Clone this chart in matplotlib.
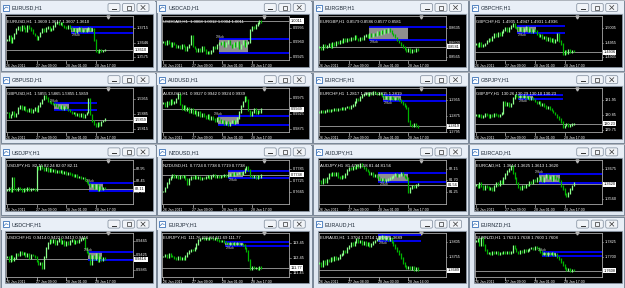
import matplotlib.pyplot as plt
import matplotlib.patches as patches
import matplotlib.transforms as mtransforms
import numpy as np

plt.rcParams['font.family'] = ['Liberation Sans Narrow', 'Liberation Sans', 'DejaVu Sans']

# hourly closes (54 bars each)
eurusd = [1.3658, 1.3676, 1.3649, 1.3668, 1.3690, 1.3712, 1.3720, 1.3708,
          1.3725, 1.3715, 1.3700, 1.3728, 1.3718, 1.3705, 1.3690, 1.3680,
          1.3665, 1.3675, 1.3695, 1.3710, 1.3702, 1.3715, 1.3720, 1.3708,
          1.3712, 1.3725, 1.3740, 1.3748, 1.3735, 1.3742, 1.3728, 1.3722,
          1.3715, 1.3725, 1.3718, 1.3705, 1.3712, 1.3698, 1.3710, 1.3715,
          1.3702, 1.3708, 1.3700, 1.3712, 1.3718, 1.3705, 1.3710, 1.3660,
          1.3605, 1.3598, 1.3612, 1.3603, 1.3608, 1.3610]
usdcad = [0.9962, 0.9955, 0.9965, 0.9958, 0.9950, 0.9960, 0.9955, 0.9948,
          0.9952, 0.9945, 0.9955, 0.9950, 0.9942, 0.9948, 0.9955, 0.9975,
          0.9950, 0.9945, 0.9940, 0.9945, 0.9938, 0.9948, 0.9942, 0.9935,
          0.9938, 0.9933, 0.9940, 0.9950, 0.9945, 0.9955, 0.9960, 0.9955,
          0.9962, 0.9950, 0.9958, 0.9965, 0.9955, 0.9948, 0.9960, 0.9952,
          0.9962, 0.9945, 0.9955, 0.9965, 0.9950, 0.9958, 0.9962, 0.9990,
          0.9998, 0.9995, 1.0003, 1.0008, 1.0013, 1.0011]
eurgbp = [0.8590, 0.8585, 0.8595, 0.8588, 0.8592, 0.8598, 0.8590, 0.8600,
          0.8595, 0.8602, 0.8598, 0.8605, 0.8600, 0.8608, 0.8603, 0.8610,
          0.8606, 0.8612, 0.8608, 0.8615, 0.8610, 0.8605, 0.8612, 0.8608,
          0.8615, 0.8618, 0.8612, 0.8620, 0.8615, 0.8622, 0.8618, 0.8625,
          0.8620, 0.8628, 0.8622, 0.8630, 0.8625, 0.8632, 0.8628, 0.8622,
          0.8618, 0.8612, 0.8605, 0.8600, 0.8595, 0.8590, 0.8585, 0.8580,
          0.8585, 0.8578, 0.8583, 0.8580, 0.8584, 0.8581]
gbpchf = [1.4950, 1.4945, 1.4955, 1.4942, 1.4948, 1.4952, 1.4960, 1.4970,
          1.4965, 1.4975, 1.4985, 1.4978, 1.4988, 1.4980, 1.4992, 1.5000,
          1.5008, 1.4995, 1.5005, 1.5012, 1.5020, 1.5010, 1.5005, 1.4998,
          1.5008, 1.4995, 1.5002, 1.5010, 1.4996, 1.5004, 1.4992, 1.5000,
          1.4995, 1.4985, 1.4978, 1.4982, 1.4970, 1.4975, 1.4965, 1.4972,
          1.4960, 1.4968, 1.4958, 1.4965, 1.4985, 1.4960, 1.4950, 1.4915,
          1.4925, 1.4918, 1.4930, 1.4922, 1.4928, 1.4926]
gbpusd = [1.5890, 1.5870, 1.5880, 1.5895, 1.5875, 1.5885, 1.5910, 1.5920,
          1.5905, 1.5915, 1.5900, 1.5895, 1.5905, 1.5890, 1.5900, 1.5910,
          1.5895, 1.5920, 1.5935, 1.5950, 1.5965, 1.5958, 1.5945, 1.5940,
          1.5935, 1.5930, 1.5925, 1.5918, 1.5910, 1.5920, 1.5905, 1.5915,
          1.5908, 1.5902, 1.5895, 1.5885, 1.5890, 1.5878, 1.5885, 1.5875,
          1.5882, 1.5870, 1.5880, 1.5890, 1.5955, 1.5880, 1.5850, 1.5835,
          1.5825, 1.5840, 1.5830, 1.5848, 1.5852, 1.5859]
audusd = [0.9960, 0.9950, 0.9965, 0.9955, 0.9970, 0.9958, 0.9962, 0.9975,
          0.9990, 0.9955, 0.9940, 0.9950, 0.9935, 0.9945, 0.9930, 0.9940,
          0.9925, 0.9935, 0.9920, 0.9930, 0.9915, 0.9925, 0.9918, 0.9910,
          0.9922, 0.9905, 0.9915, 0.9908, 0.9900, 0.9912, 0.9905, 0.9895,
          0.9900, 0.9890, 0.9898, 0.9888, 0.9895, 0.9902, 0.9892, 0.9900,
          0.9910, 0.9930, 0.9950, 0.9965, 0.9980, 0.9970, 0.9935, 0.9920,
          0.9930, 0.9940, 0.9925, 0.9935, 0.9930, 0.9939]
eurchf = [1.2895, 1.2900, 1.2892, 1.2898, 1.2905, 1.2900, 1.2908, 1.2903,
          1.2910, 1.2906, 1.2912, 1.2908, 1.2915, 1.2910, 1.2918, 1.2922,
          1.2915, 1.2925, 1.2930, 1.2945, 1.2960, 1.2955, 1.2970, 1.2980,
          1.2985, 1.2990, 1.2982, 1.2992, 1.2988, 1.2995, 1.2990, 1.2985,
          1.2992, 1.2988, 1.2975, 1.2968, 1.2972, 1.2962, 1.2970, 1.2965,
          1.2958, 1.2966, 1.2960, 1.2955, 1.2945, 1.2935, 1.2925, 1.2915,
          1.2850, 1.2830, 1.2825, 1.2832, 1.2822, 1.2819]
gbpjpy = [130.85, 130.75, 130.90, 130.70, 130.80, 130.95, 130.85, 130.70,
          130.90, 130.80, 130.95, 130.85, 130.75, 130.90, 131.00, 131.85,
          131.60, 131.75, 131.50, 131.70, 132.10, 132.35, 132.25, 132.20,
          132.30, 132.15, 132.25, 132.10, 132.20, 132.05, 132.15, 132.00,
          131.85, 131.75, 131.80, 131.60, 131.65, 131.50, 131.40, 131.45,
          131.30, 131.20, 131.05, 130.90, 130.70, 130.55, 130.35, 129.95,
          130.10, 130.20, 130.05, 130.15, 130.20, 130.23]
usdjpy = [82.05, 82.12, 82.02, 82.55, 82.10, 82.05, 82.12, 82.08,
          82.02, 82.10, 82.06, 82.12, 82.04, 82.08, 82.10, 82.06,
          83.05, 82.95, 83.10, 83.00, 82.90, 82.98, 82.88, 82.95,
          82.85, 82.90, 82.82, 82.88, 82.80, 82.85, 82.78, 82.82,
          82.75, 82.80, 82.72, 82.70, 82.65, 82.68, 82.60, 82.62,
          82.55, 82.58, 82.48, 82.40, 82.30, 82.20, 82.28, 82.15,
          82.25, 82.05, 82.18, 82.08, 82.15, 82.11]
nzdusd = [0.7670, 0.7690, 0.7715, 0.7735, 0.7745, 0.7755, 0.7745, 0.7752,
          0.7740, 0.7750, 0.7742, 0.7748, 0.7735, 0.7710, 0.7735, 0.7745,
          0.7738, 0.7748, 0.7740, 0.7745, 0.7735, 0.7742, 0.7738, 0.7745,
          0.7752, 0.7740, 0.7748, 0.7755, 0.7745, 0.7750, 0.7742, 0.7752,
          0.7748, 0.7755, 0.7750, 0.7755, 0.7760, 0.7752, 0.7765, 0.7758,
          0.7762, 0.7768, 0.7760, 0.7770, 0.7785, 0.7795, 0.7780, 0.7750,
          0.7742, 0.7748, 0.7740, 0.7752, 0.7745, 0.7755]
audjpy = [81.70, 81.60, 81.75, 81.65, 81.80, 81.95, 81.90, 82.00,
          81.92, 81.98, 81.85, 81.80, 81.90, 81.82, 81.95, 82.10,
          82.20, 82.15, 82.25, 82.18, 82.30, 82.22, 82.35, 82.25,
          82.18, 82.12, 82.05, 81.95, 82.00, 81.88, 81.92, 81.85,
          81.75, 81.70, 81.78, 81.68, 81.72, 81.75, 81.80, 81.85,
          81.90, 81.95, 81.88, 81.92, 81.98, 81.90, 81.85, 81.80,
          81.25, 81.40, 81.50, 81.45, 81.52, 81.56]
eurcad = [1.3615, 1.3605, 1.3620, 1.3610, 1.3600, 1.3612, 1.3605, 1.3598,
          1.3602, 1.3595, 1.3610, 1.3620, 1.3615, 1.3628, 1.3622, 1.3640,
          1.3655, 1.3665, 1.3675, 1.3685, 1.3660, 1.3640, 1.3620, 1.3605,
          1.3598, 1.3610, 1.3605, 1.3615, 1.3612, 1.3625, 1.3620, 1.3632,
          1.3628, 1.3640, 1.3635, 1.3645, 1.3630, 1.3642, 1.3650, 1.3638,
          1.3645, 1.3632, 1.3648, 1.3640, 1.3635, 1.3628, 1.3610, 1.3598,
          1.3580, 1.3572, 1.3585, 1.3600, 1.3612, 1.3620]
usdchf = [0.9420, 0.9410, 0.9425, 0.9412, 0.9418, 0.9430, 0.9425, 0.9435,
          0.9428, 0.9432, 0.9422, 0.9430, 0.9418, 0.9428, 0.9425, 0.9420,
          0.9410, 0.9400, 0.9405, 0.9390, 0.9420, 0.9445, 0.9460, 0.9468,
          0.9462, 0.9470, 0.9458, 0.9465, 0.9472, 0.9460, 0.9466, 0.9455,
          0.9462, 0.9458, 0.9465, 0.9470, 0.9460, 0.9466, 0.9462, 0.9468,
          0.9472, 0.9475, 0.9445, 0.9435, 0.9428, 0.9400, 0.9425, 0.9415,
          0.9430, 0.9410, 0.9422, 0.9412, 0.9418, 0.9416]
eurjpy = [112.55, 112.65, 112.50, 112.70, 112.60, 112.55, 112.45, 112.40,
          112.50, 112.35, 112.45, 112.40, 112.60, 112.80, 112.90, 113.00,
          112.95, 113.10, 113.40, 113.65, 113.75, 113.80, 113.70, 113.78,
          113.72, 113.82, 113.75, 113.70, 113.78, 113.65, 113.60, 113.55,
          113.62, 113.50, 113.45, 113.40, 113.48, 113.35, 113.42, 113.38,
          113.45, 113.35, 113.40, 113.30, 113.10, 112.90, 112.30, 111.70,
          111.85, 111.75, 111.80, 111.68, 111.82, 111.77]
euraud = [1.3735, 1.3725, 1.3740, 1.3730, 1.3745, 1.3740, 1.3750, 1.3745,
          1.3755, 1.3748, 1.3752, 1.3760, 1.3765, 1.3775, 1.3770, 1.3785,
          1.3790, 1.3800, 1.3795, 1.3805, 1.3815, 1.3805, 1.3810, 1.3798,
          1.3805, 1.3795, 1.3800, 1.3792, 1.3798, 1.3805, 1.3810, 1.3815,
          1.3822, 1.3818, 1.3825, 1.3815, 1.3820, 1.3812, 1.3818, 1.3805,
          1.3795, 1.3785, 1.3775, 1.3765, 1.3750, 1.3735, 1.3725, 1.3718,
          1.3722, 1.3715, 1.3720, 1.3712, 1.3718, 1.3710]
eurnzd = [1.7830, 1.7850, 1.7800, 1.7860, 1.7800, 1.7760, 1.7730, 1.7735,
          1.7725, 1.7740, 1.7730, 1.7738, 1.7725, 1.7735, 1.7728, 1.7742,
          1.7732, 1.7738, 1.7730, 1.7740, 1.7790, 1.7770, 1.7745, 1.7735,
          1.7750, 1.7740, 1.7755, 1.7748, 1.7758, 1.7770, 1.7775, 1.7765,
          1.7780, 1.7772, 1.7760, 1.7740, 1.7720, 1.7735, 1.7715, 1.7730,
          1.7722, 1.7735, 1.7718, 1.7725, 1.7700, 1.7680, 1.7655, 1.7635,
          1.7605, 1.7590, 1.7600, 1.7585, 1.7595, 1.7588]

symbols = ['EURUSD', 'USDCAD', 'EURGBP', 'GBPCHF',
           'GBPUSD', 'AUDUSD', 'EURCHF', 'GBPJPY',
           'USDJPY', 'NZDUSD', 'AUDJPY', 'EURCAD',
           'USDCHF', 'EURJPY', 'EURAUD', 'EURNZD']
closes = [eurusd, usdcad, eurgbp, gbpchf, gbpusd, audusd, eurchf, gbpjpy,
          usdjpy, nzdusd, audjpy, eurcad, usdchf, eurjpy, euraud, eurnzd]
ohlc = ['1.3609 1.3617 1.3607 1.3610', '1.0008 1.0012 1.0004 1.0011',
        '0.8579 0.8586 0.8577 0.8581', '1.4935 1.4947 1.4931 1.4936',
        '1.5855 1.5865 1.5855 1.5859', '0.9927 0.9942 0.9924 0.9939',
        '1.2817 1.2826 1.2815 1.2819', '130.26 130.29 130.10 130.23',
        '82.15 82.24 82.07 82.11', '0.7724 0.7738 0.7719 0.7738',
        '81.47 81.58 81.44 81.56', '1.3614 1.3625 1.3613 1.3620',
        '0.9414 0.9422 0.9413 0.9416', '111.76 111.84 111.69 111.77',
        '1.3704 1.3714 1.3685 1.3689', '1.7624 1.7638 1.7600 1.7608']
price_ticks = [[1.3715, 1.3646, 1.3575], [0.9995, 0.9960, 0.9925],
               [0.8635, 0.8600, 0.8565], [1.5005, 1.4955, 1.4905],
               [1.5955, 1.5885, 1.5815], [0.9975, 0.9925, 0.9875],
               [1.2955, 1.2875, 1.2795], [131.95, 130.85, 129.75],
               [82.95, 82.45, 81.95], [0.7785, 0.7725, 0.7665],
               [82.15, 81.70, 81.25], [1.3675, 1.3560],
               [0.9465, 0.9425, 0.9385], [113.45, 112.45, 111.45],
               [1.3805, 1.3755], [1.7825, 1.7700]]
bid = [1.3610, 1.0013, 0.8590, 1.4922, 1.5855, 0.9939, 1.2822, 130.23,
       82.10, 0.7757, 81.54, 1.3616, 0.9414, 111.78, 1.3710, 1.7586]
y_range = [(1.3562, 1.3774), (0.9917, 1.0025), (0.8558, 0.8664), (1.4895, 1.5048),
           (1.5798, 1.6003), (0.9863, 1.0009), (1.2792, 1.3016), (129.60, 132.83),
           (81.43, 83.32), (0.7603, 0.7830), (80.76, 82.49), (1.3541, 1.3706),
           (0.9366, 0.9489), (111.20, 114.14), (1.3689, 1.3836), (1.7536, 1.7902)]
# zone rectangle: first bar, last bar, low, high
zones = [(34.6, 46.5, 1.3692, 1.3720), (30.3, 46.0, 0.9933, 0.9968),
         (27.0, 48.0, 0.8607, 0.8637), (22.2, 32.5, 1.4990, 1.5013),
         (25.4, 33.4, 1.5900, 1.5932), (29.6, 41.0, 0.9886, 0.9916),
         (34.1, 43.8, 1.2950, 1.2981), (22.8, 31.0, 132.02, 132.32),
         (44.4, 52.0, 81.99, 82.33), (35.2, 43.3, 0.7740, 0.7775),
         (31.9, 47.6, 81.65, 82.01), (34.0, 45.4, 1.3623, 1.3654),
         (43.8, 51.4, 0.9412, 0.9435), (33.6, 43.0, 113.27, 113.54),
         (31.4, 37.9, 1.3809, 1.3827), (35.7, 43.3, 1.7708, 1.7742)]
# last bar of the blue level lines (None = to the price scale)
level_end = [None, None, None, 48.0, 48.7, None, None, 47.0,
             None, None, None, None, None, None, 54.6, None]
dates = ['26 Jan 2011', '27 Jan 09:00', '28 Jan 01:00', '28 Jan 17:00']
dates_euraud = ['26 Jan 2011', '27 Jan 08:00', '28 Jan 00:00', '28 Jan 16:00']
date_bars = [0, 16, 32, 48]

W, H = 625, 288
fig = plt.figure(figsize=(6.25, 2.88), dpi=100)
fig.patch.set_facecolor('#aeb4bc')
bg = fig.add_axes([0, 0, 1, 1])
bg.set_xlim(0, W)
bg.set_ylim(H, 0)
bg.axis('off')

head_fs = 3.1
price_fs = 2.8
date_fs = 2.5
for k, sym in enumerate(symbols):
    r, c = divmod(k, 4)
    wx = c * 156.25
    wy = r * 72.2

    # window frame + title bar
    bg.add_patch(patches.Rectangle((wx + 0.5, wy + 0.5), 155, 70.5, fc='#dfe7f1', ec='#6e7c8e', lw=0.6))
    bg.add_patch(patches.Rectangle((wx + 1, wy + 1), 154, 12, fc='#e9eff7', ec='none'))
    bg.add_patch(patches.Rectangle((wx + 5, wy + 14), 148, 52.5, fc='black', ec='#8d99a8', lw=0.5))
    bg.add_patch(patches.Rectangle((wx + 3, wy + 4.5), 6, 6, fc='#ffffff', ec='#3b72b8', lw=0.6))
    bg.plot([wx + 4, wx + 6, wx + 8], [wy + 9, wy + 7, wy + 8], color='#3b72b8', lw=0.5)
    bg.text(wx + 12, wy + 8, f'{sym},H1', fontsize=3.9, color='#1e2a38', va='center')
    for i, bx in enumerate((108, 122.5, 137)):
        bg.add_patch(patches.FancyBboxPatch((wx + bx, wy + 3.5), 12, 8,
                                            boxstyle='round,pad=0,rounding_size=1.5',
                                            fc='#f1f4f8', ec='#7b8898', lw=0.5))
        cx, cy = wx + bx + 6, wy + 7.5
        if i == 0:
            bg.plot([cx - 2, cx + 2], [cy + 1.5, cy + 1.5], color='#333', lw=0.7)
        elif i == 1:
            bg.add_patch(patches.Rectangle((cx - 2, cy - 2), 4, 4, fc='none', ec='#333', lw=0.5))
        else:
            bg.plot([cx - 2, cx + 2], [cy - 2, cy + 2], color='#333', lw=0.5)
            bg.plot([cx - 2, cx + 2], [cy + 2, cy - 2], color='#333', lw=0.5)

    # chart area
    ax = fig.add_axes([(wx + 6) / W, 1 - (wy + 60) / H, 127 / W, 44 / H])
    ax.set_facecolor('black')
    ax.set_xlim(-0.5, 68.1)
    lo_y, hi_y = y_range[k]
    ax.set_ylim(lo_y, hi_y)
    ax.set_xticks([])
    ax.set_yticks([])
    for s in ax.spines.values():
        s.set_color('#a8a8a8')
        s.set_linewidth(0.6)
    ty = mtransforms.blended_transform_factory(ax.transAxes, ax.transData)
    tx = mtransforms.blended_transform_factory(ax.transData, ax.transAxes)

    cl = np.array(closes[k])
    op = np.r_[cl[0], cl[:-1]]
    wick = (hi_y - lo_y) * 0.02
    lows = np.minimum(op, cl) - wick
    highs = np.maximum(op, cl) + wick
    x = np.arange(len(cl))
    up = cl >= op
    ax.vlines(x[up], lows[up], highs[up], color='#8cff8c', lw=0.9, zorder=3)
    ax.vlines(x[~up], lows[~up], highs[~up], color='#00b400', lw=0.9, zorder=3)

    z0, z1, zlo, zhi = zones[k]
    ax.add_patch(patches.Rectangle((z0, zlo), z1 - z0, zhi - zlo, fc='#8e8e8e', ec='none', zorder=2))
    end = level_end[k] if level_end[k] is not None else 68.1
    ax.hlines([zlo, zhi], z0, end, color='#0000ff', lw=1.3, zorder=2.5)
    # zone name sits above the box unless the header line is in the way
    if (zhi - lo_y) / (hi_y - lo_y) > 0.72:
        ax.text(z0 + 0.5, zlo, '3Hfiob', fontsize=2.2, color='#c8c8c8', va='top', zorder=4)
    else:
        ax.text(z0 - 2, zhi, '3Hfiob', fontsize=2.2, color='#c8c8c8', va='bottom', zorder=4)

    ax.axhline(bid[k], color='#8c8c8c', lw=0.7, zorder=1)
    ax.text(0.008, 0.88, f'{sym},H1  {ohlc[k]}', fontsize=head_fs, color='white',
            transform=ax.transAxes, va='center', zorder=5)
    ax.plot([54.6], [0.985], marker='v', ms=2.2, color='#b8b8b8', transform=tx, clip_on=False)

    digits = 2 if 'JPY' in sym else 4
    for p in price_ticks[k]:
        ax.text(1.025, p, f'{p:.{digits}f}', fontsize=price_fs, color='white', va='center',
                transform=ty, clip_on=False)
        ax.plot([1.0, 1.012], [p, p], color='#bbbbbb', lw=0.4, transform=ty, clip_on=False)
    ax.text(1.015, bid[k], ohlc[k].split()[-1], fontsize=price_fs, color='black', va='center',
            transform=ty, clip_on=False,
            bbox=dict(fc='white', ec='none', pad=0.5))

    labels = dates_euraud if sym == 'EURAUD' else dates
    for b, lbl in zip(date_bars, labels):
        ax.plot([b, b], [-0.02, -0.07], color='#cccccc', lw=0.5, transform=tx, clip_on=False)
        ax.text(b - 0.3, -0.08, lbl, fontsize=date_fs, color='white', ha='left', va='top',
                transform=tx, clip_on=False)

fig.savefig('out.png', dpi=100, facecolor=fig.get_facecolor())
